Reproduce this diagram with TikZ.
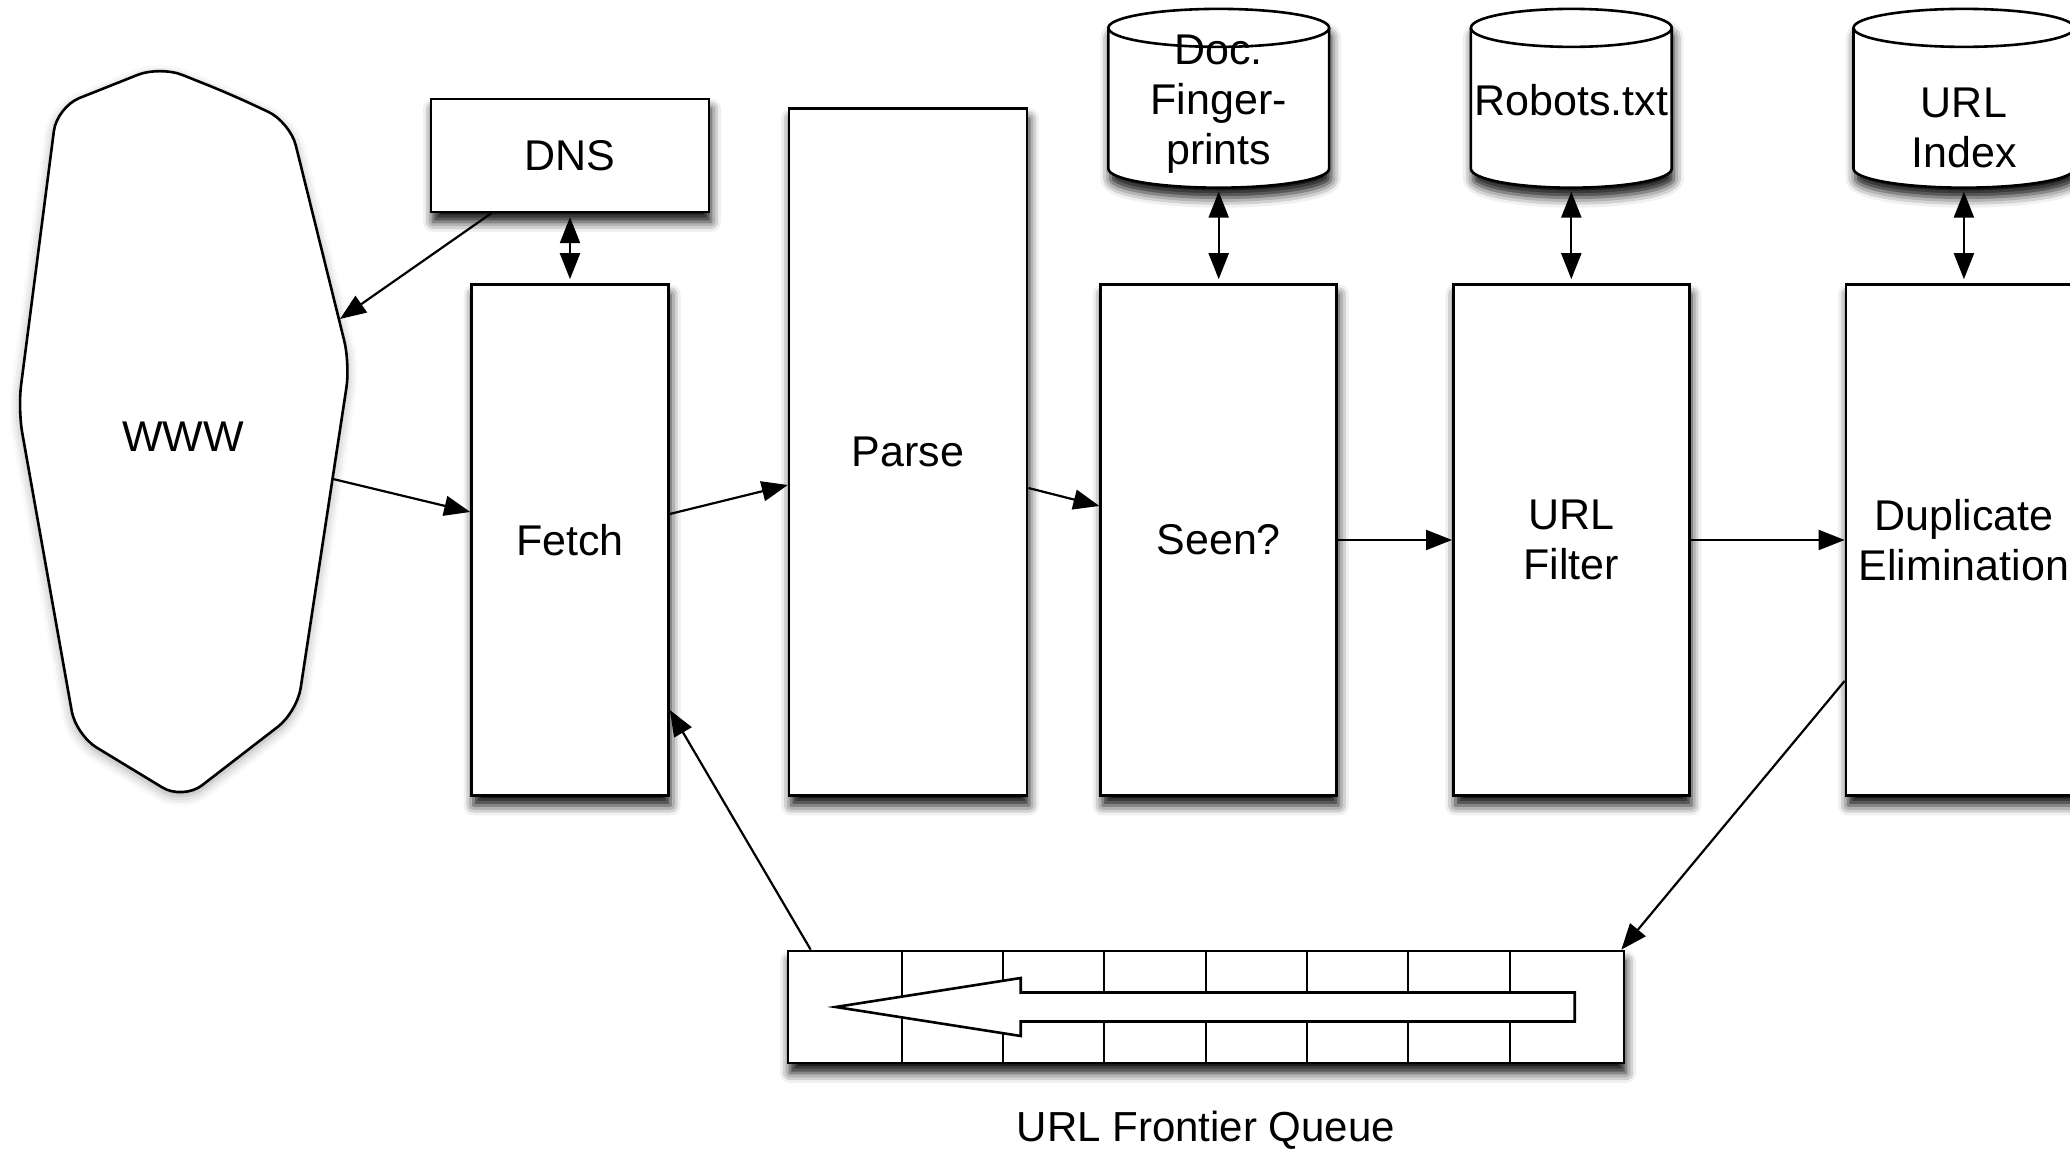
\documentclass[tikz,border=0pt]{standalone}
\usepackage{fontspec}
\setmainfont{Liberation Sans}
\usetikzlibrary{arrows.meta,positioning,calc,shadows.blur}

\newcommand\boxfont{\fontsize{21.5}{25}\selectfont}
\newcommand\drawstore[1]{%
  \path[storebody] let \p1=($(#1.north east)-(#1.north west)$) in
    ($(#1.north west)+(0,-19)$) -- ($(#1.south west)+(0,19)$)
    arc[start angle=180,end angle=360,x radius=0.5*\x1,y radius=9.5pt]
    -- ($(#1.north east)+(0,-19)$)
    arc[start angle=0,end angle=180,x radius=0.5*\x1,y radius=9.5pt] -- cycle;
  \draw[line width=1.3pt] let \p1=($(#1.north east)-(#1.north west)$) in
    ($(#1.north east)+(0,-19)$)
    arc[start angle=0,end angle=-180,x radius=0.5*\x1,y radius=9.5pt];
}

\begin{document}
\begin{tikzpicture}[
  x=0.5pt, y=0.5pt,
  dropshade/.style={blur shadow={shadow xshift=1pt,shadow yshift=-5pt,
                    shadow blur radius=5pt,shadow opacity=95}},
  box/.style={draw,line width=1.3pt,fill=white,dropshade,minimum width=118pt,
              minimum height=255.5pt,inner sep=0pt,align=center,font=\boxfont},
  store/.style={minimum width=110pt,minimum height=89pt,inner sep=0pt},
  storebody/.style={draw,line width=1.3pt,fill=white,dropshade},
  arr/.style={-{Triangle[length=13pt,width=10pt,fill=black]},draw=black,line width=1.1pt},
  twoway/.style={{Triangle[length=13pt,width=10pt,fill=black]}-{Triangle[length=13pt,width=10pt,fill=black]},
                 draw=black,line width=1.1pt,shorten <=2pt,shorten >=2pt}
]
\useasboundingbox (0,0) rectangle (2070,1149);
\clip (0,0) rectangle (2070,1149);

\draw[line width=1.3pt,fill=white,rounded corners=12pt,
      blur shadow={shadow xshift=0pt,shadow yshift=-2pt,shadow blur radius=5pt,shadow opacity=35}]
  (230,1055) -- (290,1027) -- (350,785) -- (297,437) -- (183,349) -- (76,414)
  -- (18,740) -- (57,1042) -- (160,1083) -- cycle;
\node[font=\boxfont] (www) at (183,712) {WWW};
\coordinate (www-in) at (340,830);
\coordinate (www-out) at (333,670);

\node[box,minimum width=98.5pt] (fetch) at (570,609) {Fetch};
\node[box,minimum width=139pt,minimum height=56.5pt,above=35pt of fetch] (dns) {DNS};
\node[box,minimum width=119pt,minimum height=343.5pt,right=59pt of fetch.south east,
      anchor=south west] (parse) {Parse};
\node[box,right=35.5pt of parse.south east,anchor=south west] (seen) {Seen?};
\node[box,right=57pt of seen] (filter) {URL\\Filter};
\node[box,right=77pt of filter] (dup) {Duplicate\\Elimination};

\node[store,above=47.75pt of seen] (prints) {};
\node[store,minimum width=100pt,above=47.75pt of filter] (robots) {};
\node[store,above=47.75pt of dup] (index) {};
\drawstore{prints}
\drawstore{robots}
\drawstore{index}
\node[font=\boxfont,align=center] (prints-text) at ($(prints)+(0,-6)$) {Doc.\\Finger-\\prints};
\node[font=\boxfont] (robots-text) at ($(robots)+(0,-2)$) {Robots.txt};
\node[font=\boxfont,align=center] (index-text) at ($(index)+(0,-30)$) {URL\\Index};

\node[draw,line width=1.3pt,fill=white,dropshade,minimum width=418pt,minimum height=56pt,
      inner sep=0pt] (queue) at (1206,142) {};
\foreach \k in {0,...,6}
  \draw[line width=1pt] ($(queue.north west)+(115+101.3*\k,0)$)
    -- ($(queue.south west)+(115+101.3*\k,0)$);
\draw[line width=1.3pt,fill=white] ($(queue.west)+(49,0)$) -- ++(185,29) -- ++(0,-14.5)
  -- ++(554,0) -- ++(0,-29) -- ++(-554,0) -- ++(0,-14.5) -- cycle;
\node[font=\fontsize{21}{25}\selectfont] (queue-label) at ($(queue.south)+(0,-66)$)
  {URL Frontier Queue};

\draw[arr] ($(dns.south west)!0.22!(dns.south east)$) -- (www-in);
\draw[arr] (www-out) -- ($(fetch.west)+(0,28)$);
\draw[arr] ($(fetch.east)+(0,26)$) -- ($(parse.west)+(0,-33)$);
\draw[arr] ($(parse.east)+(0,-36)$) -- ($(seen.west)+(0,34)$);
\draw[arr] (seen) -- (filter);
\draw[arr] (filter) -- (dup);
\draw[arr] ($(dup.west)+(0,-141)$) -- ($(queue.north east)+(-4,0)$);
\draw[arr] ($(queue.north west)+(24,0)$) -- ($(fetch.east)+(0,-170)$);

\draw[twoway] (dns.south) -- (dns.south |- fetch.north);
\draw[twoway] (prints.south) -- (seen.north);
\draw[twoway] (robots.south) -- (robots.south |- filter.north);
\draw[twoway] (index.south) -- (index.south |- dup.north);
\end{tikzpicture}
\end{document}
